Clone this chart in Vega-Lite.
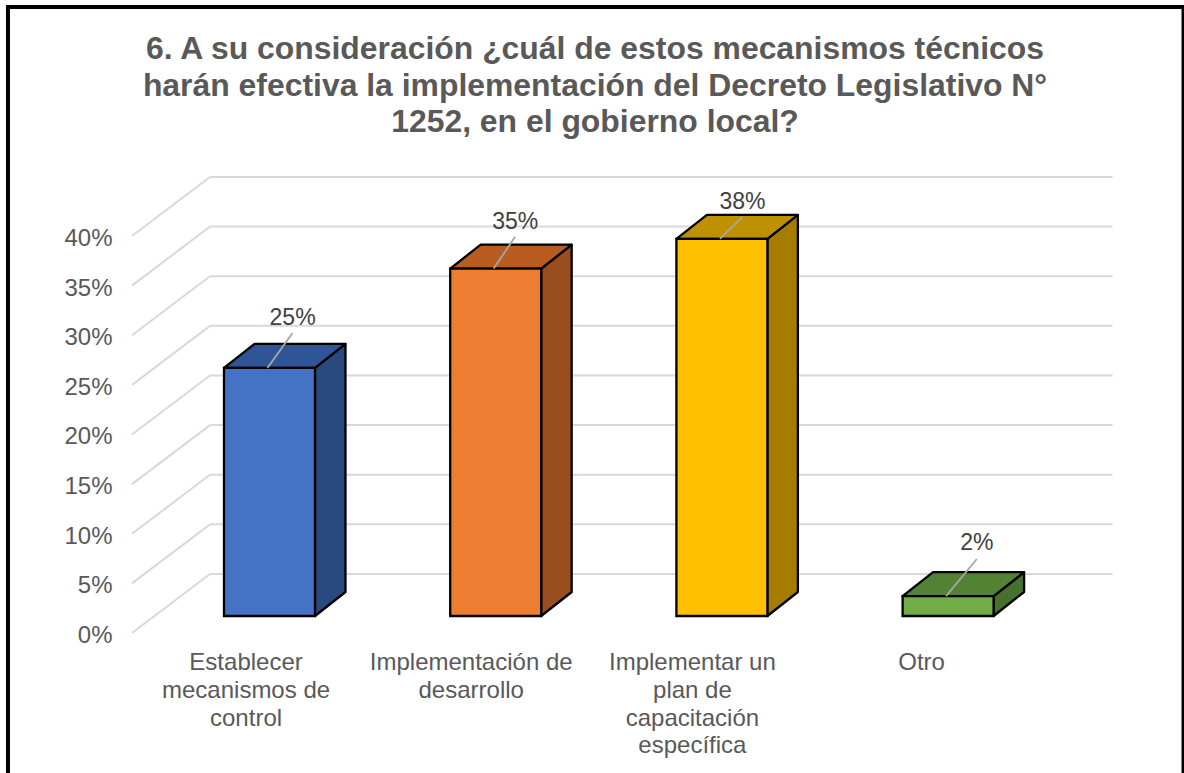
{
  "$schema": "https://vega.github.io/schema/vega-lite/v6.json",
  "width": 1184,
  "height": 773,
  "padding": 0,
  "autosize": "none",
  "background": "white",
  "config": {"view": {"stroke": null}, "font": "Liberation Sans"},
  "title": {
    "text": [
      "6. A su consideración ¿cuál de estos mecanismos técnicos",
      "harán efectiva la implementación del Decreto Legislativo N°",
      "1252, en el gobierno local?"
    ],
    "anchor": "middle",
    "baseline": "top",
    "offset": -139,
    "dx": 3,
    "font": "Liberation Sans",
    "fontSize": 31.9,
    "fontWeight": "bold",
    "lineHeight": 36.5,
    "color": "#595959"
  },
  "params": [
    {"name": "halfBar", "value": 0.2011},
    {"name": "depthX", "value": 0.1348},
    {"name": "depthY", "value": 2.418},
    {"name": "baseLevel", "value": 1.713},
    {"name": "wallX", "value": -0.6079},
    {"name": "wallBackX", "value": -0.2631},
    {"name": "wallEndX", "value": 3.7268},
    {"name": "wallRise", "value": 5.945}
  ],
  "datasets": {
    "answers": [
      {"idx": 0, "category": "Establecer\nmecanismos de\ncontrol", "value": 25},
      {"idx": 1, "category": "Implementación de\ndesarrollo", "value": 35},
      {"idx": 2, "category": "Implementar un\nplan de\ncapacitación\nespecífica", "value": 38},
      {"idx": 3, "category": "Otro", "value": 2}
    ],
    "ticks": [
      {"tick": 0}, {"tick": 5}, {"tick": 10}, {"tick": 15}, {"tick": 20},
      {"tick": 25}, {"tick": 30}, {"tick": 35}, {"tick": 40}
    ],
    "frameLeft": [{"gx": -1.1561, "gy": 63.275, "gy2": -14.106}],
    "frameTop": [{"gx": -1.165, "gx2": 4.0428, "gy": 63.073}],
    "frameRight": [{"gx": 4.0385, "gy": 63.275, "gy2": -14.106}]
  },
  "encoding": {
    "x": {
      "field": "gx",
      "type": "quantitative",
      "axis": null,
      "scale": {"domain": [-1.19142, 4.04288], "nice": false, "zero": false}
    },
    "y": {
      "field": "gy",
      "type": "quantitative",
      "scale": {"domain": [-14.106, 63.778], "nice": false, "zero": false},
      "axis": {
        "title": null,
        "orient": "left",
        "offset": -112,
        "values": [0, 5, 10, 15, 20, 25, 30, 35, 40],
        "labelExpr": "datum.value + '%'",
        "labelFont": "Liberation Sans",
        "labelFontSize": 24,
        "labelColor": "#595959",
        "labelPadding": 0,
        "labelOffset": 2.5,
        "ticks": false,
        "domain": false,
        "grid": false
      }
    }
  },
  "layer": [
    {
      "data": {"name": "ticks"},
      "transform": [
        {"calculate": "wallBackX", "as": "gx"},
        {"calculate": "wallEndX", "as": "gx2"},
        {"calculate": "datum.tick + wallRise", "as": "gy"}
      ],
      "mark": {"type": "rule", "color": "#d9d9d9", "strokeWidth": 2},
      "encoding": {"x2": {"field": "gx2"}}
    },
    {
      "data": {"name": "ticks"},
      "transform": [
        {"calculate": "wallX", "as": "gx"},
        {"calculate": "wallBackX", "as": "gx2"},
        {"calculate": "datum.tick", "as": "gy"},
        {"calculate": "datum.tick + wallRise", "as": "gy2"}
      ],
      "mark": {"type": "rule", "color": "#d9d9d9", "strokeWidth": 2},
      "encoding": {"x2": {"field": "gx2"}, "y2": {"field": "gy2"}}
    },
    {
      "data": {"name": "answers"},
      "transform": [
        {"calculate": "[0, 1]", "as": "t"},
        {"flatten": ["t"]},
        {"calculate": "datum.idx + halfBar + datum.t * depthX", "as": "gx"},
        {"calculate": "baseLevel + datum.value + datum.t * depthY", "as": "gy"},
        {"calculate": "baseLevel + datum.t * depthY", "as": "gy2"}
      ],
      "mark": {"type": "area", "orient": "vertical", "stroke": "black", "strokeWidth": 2.3, "strokeJoin": "round", "fillOpacity": 1},
      "encoding": {
        "y2": {"field": "gy2"},
        "fill": {
          "field": "idx",
          "type": "nominal",
          "legend": null,
          "scale": {"domain": [0, 1, 2, 3], "range": ["#2a4a7f", "#9a4d1e", "#a67c00", "#47702e"]}
        }
      }
    },
    {
      "data": {"name": "answers"},
      "transform": [
        {"calculate": "[0, 1]", "as": "t"},
        {"flatten": ["t"]},
        {"calculate": "datum.idx - halfBar + datum.t * depthX", "as": "gx"},
        {"calculate": "datum.idx + halfBar + datum.t * depthX", "as": "gx2"},
        {"calculate": "baseLevel + datum.value + datum.t * depthY", "as": "gy"}
      ],
      "mark": {"type": "area", "orient": "horizontal", "stroke": "black", "strokeWidth": 2.3, "strokeJoin": "round", "fillOpacity": 1},
      "encoding": {
        "x2": {"field": "gx2"},
        "fill": {
          "field": "idx",
          "type": "nominal",
          "legend": null,
          "scale": {"domain": [0, 1, 2, 3], "range": ["#2f5597", "#b85c22", "#bf9000", "#548235"]}
        }
      }
    },
    {
      "data": {"name": "answers"},
      "transform": [
        {"calculate": "datum.idx - halfBar", "as": "gx"},
        {"calculate": "datum.idx + halfBar", "as": "gx2"},
        {"calculate": "baseLevel + datum.value", "as": "gy"},
        {"calculate": "baseLevel", "as": "gy2"}
      ],
      "mark": {"type": "rect", "stroke": "black", "strokeWidth": 2.3},
      "encoding": {
        "x2": {"field": "gx2"},
        "y2": {"field": "gy2"},
        "fill": {
          "field": "idx",
          "type": "nominal",
          "legend": null,
          "scale": {"domain": [0, 1, 2, 3], "range": ["#4472c4", "#ed7d31", "#ffc000", "#70ad47"]}
        }
      }
    },
    {
      "data": {"name": "answers"},
      "transform": [
        {"calculate": "datum.idx - 0.009", "as": "gx"},
        {"calculate": "datum.idx + [0.102, 0.086, 0.091, 0.127][datum.idx]", "as": "gx2"},
        {"calculate": "baseLevel + datum.value", "as": "gy"},
        {"calculate": "datum.gy + [3.52, 3.21, 2.21, 3.74][datum.idx]", "as": "gy2"}
      ],
      "mark": {"type": "rule", "color": "#a6a6a6", "strokeWidth": 1.8},
      "encoding": {"x2": {"field": "gx2"}, "y2": {"field": "gy2"}}
    },
    {
      "data": {"name": "answers"},
      "transform": [
        {"calculate": "datum.idx + [0.102, 0.086, 0.091, 0.127][datum.idx]", "as": "gx"},
        {"calculate": "baseLevel + datum.value + [5.03, 4.70, 3.72, 5.38][datum.idx]", "as": "gy"},
        {"calculate": "datum.value + '%'", "as": "pct"}
      ],
      "mark": {"type": "text", "font": "Liberation Sans", "fontSize": 23, "color": "#404040", "align": "center", "baseline": "middle"},
      "encoding": {"text": {"field": "pct"}}
    },
    {
      "data": {"name": "answers"},
      "transform": [
        {"calculate": "datum.idx + [-0.1037, -0.1083, -0.1304, -0.1172][datum.idx]", "as": "gx"},
        {"calculate": "-3.728", "as": "gy"}
      ],
      "mark": {"type": "text", "font": "Liberation Sans", "fontSize": 24, "color": "#595959", "align": "center", "baseline": "alphabetic", "lineBreak": "\n", "lineHeight": 27.8},
      "encoding": {"text": {"field": "category"}}
    },
    {
      "data": {"name": "frameLeft"},
      "mark": {"type": "rule", "color": "black", "strokeWidth": 4},
      "encoding": {"y2": {"field": "gy2"}}
    },
    {
      "data": {"name": "frameTop"},
      "mark": {"type": "rule", "color": "black", "strokeWidth": 4},
      "encoding": {"x2": {"field": "gx2"}}
    },
    {
      "data": {"name": "frameRight"},
      "mark": {"type": "rule", "color": "black", "strokeWidth": 3},
      "encoding": {"y2": {"field": "gy2"}}
    }
  ],
  "resolve": {"scale": {"fill": "independent"}}
}
